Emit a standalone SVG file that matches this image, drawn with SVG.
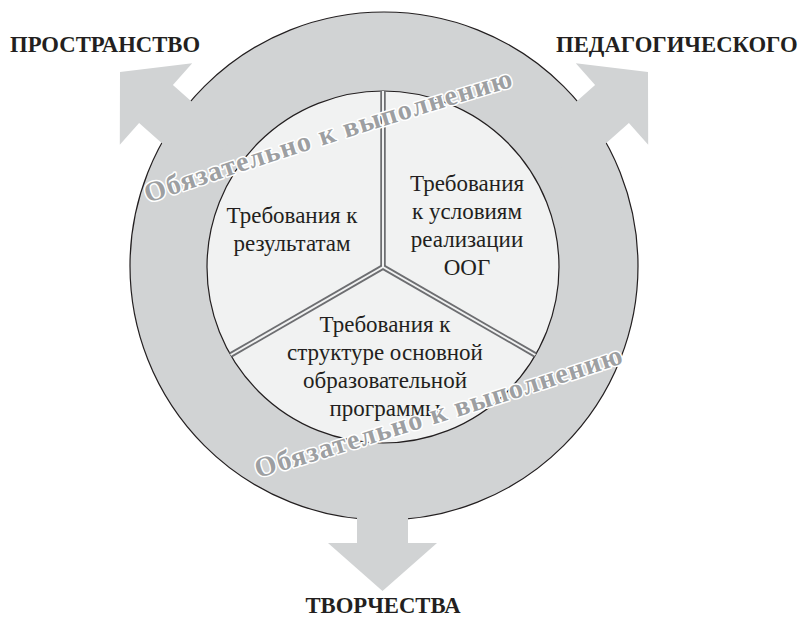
<svg xmlns="http://www.w3.org/2000/svg" width="801" height="620" viewBox="0 0 801 620">
  <style>
    .ring { fill: #d1d3d4; stroke: #231f20; stroke-width: 1.2; }
    .arrow { fill: #d1d3d4; stroke: none; }
    .inner { fill: #f1f2f2; stroke: #231f20; stroke-width: 1.2; }
    .div-out { stroke: #6d6e71; stroke-width: 5.5; fill: none; stroke-linecap: butt; }
    .div-in { stroke: #f1f2f2; stroke-width: 2; fill: none; stroke-linecap: butt; }
    .body { font-family: "Liberation Serif", "DejaVu Serif", serif; font-size: 23px; fill: #231f20; text-anchor: middle; }
    .label { font-family: "Liberation Serif", "DejaVu Serif", serif; font-size: 22.7px; font-weight: bold; fill: #231f20; }
    .curved { font-family: "Liberation Serif", "DejaVu Serif", serif; font-size: 28px; letter-spacing: 1.2px; font-weight: bold; fill: #9d9fa2; stroke: #ffffff; stroke-width: 3; paint-order: stroke; stroke-linejoin: round; }
  </style>
  <defs>
    <path id="arcTop" d="M148,203 Q330,141 535,80"/>
    <path id="arcBottom" d="M258,478 Q440,424 645,356"/>
  </defs>

  <rect width="801" height="620" fill="#ffffff"/>

  <g id="ring">
    <circle class="ring" cx="384" cy="266" r="254"/>
  </g>

  <g id="connectors">
    <polygon id="arrow-left" class="arrow" points="120,72 192.2,63.3 172.9,85 232.7,138.1 198.9,176.1 139.1,123 119.8,144.7"/>
    <polygon id="arrow-right" class="arrow" points="648,72 575.8,63.3 595.1,85 535.3,138.1 569.1,176.1 628.9,123 648.2,144.7"/>
    <polygon id="arrow-bottom" class="arrow" points="357,480 408,480 408,543 437,543 382.5,591 328,543 357,543"/>
  </g>

  <g id="inner-circle">
    <circle class="inner" cx="383" cy="267" r="176"/>
  </g>

  <g id="dividers">
    <line class="div-out" x1="383" y1="267" x2="383" y2="91"/>
    <line class="div-out" x1="383" y1="267" x2="230.6" y2="355"/>
    <line class="div-out" x1="383" y1="267" x2="535.4" y2="355"/>
    <line class="div-in" x1="383" y1="267" x2="383" y2="91"/>
    <line class="div-in" x1="383" y1="267" x2="230.6" y2="355"/>
    <line class="div-in" x1="383" y1="267" x2="535.4" y2="355"/>
  </g>

  <g id="sector-results">
    <text class="body" x="292" y="223">Требования к</text>
    <text class="body" x="292" y="251">результатам</text>
  </g>

  <g id="sector-conditions">
    <text class="body" x="467" y="191">Требования</text>
    <text class="body" x="467" y="219">к условиям</text>
    <text class="body" x="467" y="247">реализации</text>
    <text class="body" x="467" y="275">ООГ</text>
  </g>

  <g id="sector-structure">
    <text class="body" x="385" y="332">Требования к</text>
    <text class="body" x="385" y="360">структуре основной</text>
    <text class="body" x="385" y="388">образовательной</text>
    <text class="body" x="385" y="416">программы</text>
  </g>

  <g id="curved-labels">
    <text class="curved"><textPath href="#arcTop">Обязательно к выполнению</textPath></text>
    <text class="curved"><textPath href="#arcBottom">Обязательно к выполнению</textPath></text>
  </g>

  <g id="label-space">
    <text class="label" x="10" y="52">ПРОСТРАНСТВО</text>
  </g>
  <g id="label-pedagogical">
    <text class="label" x="556" y="52">ПЕДАГОГИЧЕСКОГО</text>
  </g>
  <g id="label-creativity">
    <text class="label" x="383" y="613" text-anchor="middle">ТВОРЧЕСТВА</text>
  </g>
</svg>
